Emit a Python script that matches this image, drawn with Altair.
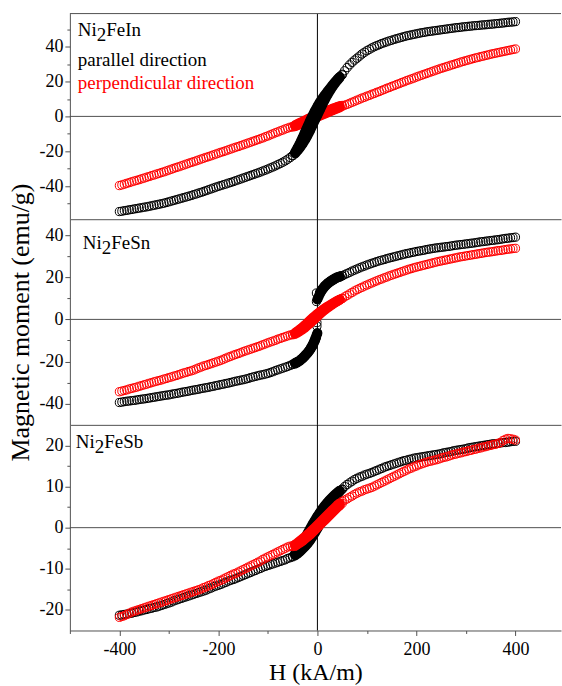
import altair as alt
import pandas as pd

# ---------------- data ----------------
# field grids (kA/m): descending branch outer points, return branch outer points, low-field points
H_POS = [60, 70, 80, 90, 100, 110, 120, 130, 140, 150, 160, 170, 180, 190, 200, 210, 220, 230,
         240, 250, 260, 270, 280, 290, 300, 310, 320, 330, 340, 350, 360, 370, 380, 390, 400]
H_NEG = [-60, -70, -80, -90, -100, -110, -120, -130, -140, -150, -160, -170, -180, -190, -200,
         -210, -220, -230, -240, -250, -260, -270, -280, -290, -300, -310, -320, -330, -340,
         -350, -360, -370, -380, -390, -400]
H_POS_R = [55, 65, 75, 85, 95, 105, 115, 125, 135, 145, 155, 165, 175, 185, 195, 205, 215, 225,
           235, 245, 255, 265, 275, 285, 295, 305, 315, 325, 335, 345, 355, 365, 375, 385, 395]
H_NEG_R = [-55, -65, -75, -85, -95, -105, -115, -125, -135, -145, -155, -165, -175, -185, -195,
           -205, -215, -225, -235, -245, -255, -265, -275, -285, -295, -305, -315, -325, -335,
           -345, -355, -365, -375, -385, -395]
H_IN = [-50, -45, -40, -35, -30, -25, -20, -15, -10, -5, 0, 5, 10, 15, 20, 25, 30, 35, 40, 45, 50]

# ---- Ni2FeIn, parallel direction (emu/g)
IN_PAR_POS = [28, 31, 33.4, 35.8, 37.7, 39.3, 40.6, 41.8, 42.8, 43.7, 44.6, 45.4, 46.2, 46.8, 47.4,
              48, 48.5, 48.9, 49.3, 49.7, 50.1, 50.5, 50.9, 51.2, 51.5, 51.8, 52.1, 52.4, 52.6,
              52.9, 53.2, 53.5, 53.8, 54.1, 54.4]
IN_PAR_NEG = [-24.6, -26.3, -27.7, -29, -30.2, -31.3, -32.4, -33.4, -34.4, -35.4, -36.4, -37.4,
              -38.3, -39.2, -40.1, -41.1, -42.1, -43.1, -44, -44.9, -45.8, -46.6, -47.4, -48.2,
              -49, -49.8, -50.4, -51, -51.6, -52.1, -52.6, -53.1, -53.6, -54.1, -54.6]
IN_PAR_POS_R = [26.2, 29.6, 32.3, 34.6, 36.8, 38.5, 40, 41.2, 42.3, 43.3, 44.2, 45, 45.8, 46.5,
                47.1, 47.7, 48.2, 48.7, 49.1, 49.5, 49.9, 50.3, 50.7, 51, 51.4, 51.7, 52, 52.2,
                52.5, 52.8, 53, 53.3, 53.6, 54, 54.2]
IN_PAR_NEG_R = [-23.6, -25.5, -27, -28.4, -29.6, -30.8, -31.9, -32.9, -33.9, -34.9, -35.9, -36.9,
                -37.9, -38.8, -39.7, -40.6, -41.6, -42.6, -43.6, -44.5, -45.4, -46.2, -47, -47.8,
                -48.6, -49.4, -50.1, -50.7, -51.3, -51.9, -52.4, -52.9, -53.4, -53.9, -54.4]
IN_PAR_DOWN = [-22.5, -20.5, -18, -15.2, -12.2, -9, -5.8, -2.6, 0.4, 3.2, 5.8, 8.2, 10.3, 12.3,
               14.2, 16, 17.8, 19.6, 21.2, 22.7, 24.2]
IN_PAR_UP = [-22.5, -21.2, -19.6, -17.8, -15.8, -13.5, -11, -8.2, -5.2, -2.2, 0.8, 3.8, 6.8, 9.6,
             12.2, 14.6, 16.8, 18.8, 20.6, 22.3, 23.8]
# ---- Ni2FeIn, perpendicular direction
IN_PERP_POS = [6.9, 8.1, 9.3, 10.5, 11.6, 12.7, 13.8, 14.9, 16.1, 17.2, 18.3, 19.4, 20.5, 21.5,
               22.6, 23.6, 24.6, 25.6, 26.6, 27.6, 28.5, 29.4, 30.3, 31.2, 32, 32.8, 33.6, 34.3,
               35, 35.7, 36.3, 36.9, 37.5, 38.1, 38.7]
IN_PERP_NEG = [-6.7, -7.8, -8.9, -10, -11.2, -12.3, -13.3, -14.3, -15.3, -16.3, -17.3, -18.2,
               -19.2, -20.2, -21.1, -22.1, -23.1, -24, -25, -26, -26.9, -27.9, -28.9, -29.8,
               -30.8, -31.8, -32.7, -33.6, -34.5, -35.4, -36.3, -37.1, -38, -38.9, -39.7]
IN_PERP_POS_R = [6.4, 7.5, 8.7, 9.9, 11, 12.1, 13.2, 14.3, 15.5, 16.6, 17.7, 18.8, 19.9, 21, 22,
                 23.1, 24.1, 25.1, 26.1, 27.1, 28, 28.9, 29.8, 30.7, 31.6, 32.4, 33.2, 33.9, 34.6,
                 35.3, 36, 36.6, 37.2, 37.8, 38.4]
IN_PERP_NEG_R = [-6.2, -7.2, -8.3, -9.4, -10.6, -11.7, -12.8, -13.8, -14.8, -15.8, -16.8, -17.7,
                 -18.7, -19.7, -20.6, -21.6, -22.6, -23.5, -24.5, -25.5, -26.4, -27.4, -28.4,
                 -29.3, -30.3, -31.3, -32.2, -33.1, -34, -34.9, -35.8, -36.7, -37.5, -38.4, -39.3]
IN_PERP_DOWN = [-5.8, -5.1, -4.4, -3.7, -3, -2.3, -1.6, -1, -0.4, 0.2, 0.8, 1.4, 2, 2.6, 3.2,
                3.8, 4.4, 4.9, 5.4, 5.9, 6.3]
IN_PERP_UP = [-6.1, -5.6, -5, -4.4, -3.8, -3.2, -2.6, -2, -1.4, -0.8, -0.2, 0.4, 1, 1.6, 2.2,
              2.8, 3.4, 4, 4.6, 5.2, 5.8]

# ---- Ni2FeSn, parallel direction
SN_PAR_POS = [21.8, 22.9, 23.9, 24.9, 25.8, 26.6, 27.4, 28.1, 28.8, 29.4, 30, 30.6, 31.2, 31.7,
              32.2, 32.6, 33.1, 33.5, 33.9, 34.2, 34.5, 34.8, 35.2, 35.5, 35.8, 36.1, 36.4, 36.8,
              37.1, 37.4, 37.7, 38, 38.4, 38.7, 39]
SN_PAR_NEG = [-22.3, -23.1, -23.9, -24.8, -25.6, -26.2, -26.7, -27.3, -28, -28.6, -29.1, -29.6,
              -30.2, -30.7, -31.2, -31.7, -32.2, -32.6, -33.1, -33.5, -34, -34.4, -34.9, -35.3,
              -35.8, -36.1, -36.5, -36.9, -37.3, -37.7, -38, -38.4, -38.7, -39, -39.4]
SN_PAR_POS_R = [21.2, 22.3, 23.4, 24.4, 25.3, 26.2, 27, 27.8, 28.4, 29.1, 29.7, 30.3, 30.9, 31.4,
                31.9, 32.4, 32.8, 33.3, 33.7, 34, 34.3, 34.6, 35, 35.3, 35.6, 35.9, 36.2, 36.6,
                36.9, 37.2, 37.5, 37.8, 38.2, 38.5, 38.8]
SN_PAR_NEG_R = [-21.8, -22.7, -23.5, -24.3, -25.2, -25.9, -26.4, -27, -27.6, -28.3, -28.8, -29.3,
                -29.9, -30.4, -30.9, -31.4, -31.9, -32.4, -32.8, -33.3, -33.7, -34.2, -34.6,
                -35.1, -35.5, -35.9, -36.3, -36.7, -37.1, -37.5, -37.8, -38.2, -38.5, -38.8, -39.2]
SN_PAR_DOWN = [-21.4, -20.9, -20.3, -19.5, -18.5, -17.3, -16, -14.5, -12.6, -10, 9.5, 12.2, 14.1,
               15.6, 16.8, 17.7, 18.5, 19.2, 19.8, 20.2, 20.6]
SN_PAR_UP = [-21.2, -20.7, -20.1, -19.3, -18.3, -17.1, -15.8, -14.2, -12.2, -9.5, -6.5, 12.6,
             14.4, 15.9, 17, 17.9, 18.7, 19.4, 20, 20.4, 20.8]
SN_PAR_JUMP_H = [-2, -2, -1, -1, -1, -2]
SN_PAR_JUMP_M = [12.5, 8.5, -1.5, -3.2, -7, -8.7]
# ---- Ni2FeSn, perpendicular direction
SN_PERP_POS = [11.4, 12.8, 14.1, 15.2, 16.3, 17.3, 18.3, 19.2, 20.1, 21, 21.8, 22.6, 23.4, 24.1,
               24.8, 25.4, 26, 26.6, 27.2, 27.7, 28.2, 28.7, 29.2, 29.7, 30.1, 30.5, 30.9, 31.3,
               31.7, 32, 32.4, 32.7, 33.1, 33.4, 33.7]
SN_PERP_NEG = [-7.8, -8.6, -9.4, -10.3, -11.1, -12, -12.9, -13.7, -14.5, -15.3, -16.2, -17,
               -17.9, -18.9, -19.8, -20.6, -21.4, -22.1, -23, -24, -24.7, -25.4, -26.2, -26.9,
               -27.6, -28.3, -29, -29.6, -30.3, -31, -31.7, -32.4, -33, -33.7, -34.3]
SN_PERP_POS_R = [10.7, 12.1, 13.5, 14.7, 15.8, 16.8, 17.8, 18.8, 19.7, 20.6, 21.4, 22.2, 23, 23.8,
                 24.5, 25.1, 25.7, 26.3, 26.9, 27.5, 28, 28.5, 29, 29.5, 29.9, 30.3, 30.7, 31.1,
                 31.5, 31.9, 32.2, 32.6, 32.9, 33.3, 33.6]
SN_PERP_NEG_R = [-7.4, -8.2, -9, -9.9, -10.7, -11.6, -12.5, -13.3, -14.1, -14.9, -15.8, -16.6,
                 -17.5, -18.4, -19.4, -20.2, -21, -21.8, -22.6, -23.5, -24.4, -25.1, -25.8, -26.6,
                 -27.3, -28, -28.7, -29.3, -30, -30.7, -31.4, -32.1, -32.7, -33.4, -34]
SN_PERP_DOWN = [-7.1, -6.4, -5.6, -4.7, -3.7, -2.7, -1.6, -0.5, 0.6, 1.6, 2.6, 3.5, 4.4, 5.2, 6,
                6.7, 7.4, 8.1, 8.8, 9.4, 10]
SN_PERP_UP = [-7.3, -6.8, -6.2, -5.5, -4.7, -3.8, -2.8, -1.8, -0.7, 0.4, 1.5, 2.6, 3.6, 4.6, 5.5,
              6.3, 7.1, 7.9, 8.6, 9.3, 9.9]

# ---- Ni2FeSb, parallel direction
SB_PAR_POS = [10.5, 11.3, 12, 12.5, 13, 13.4, 13.9, 14.4, 14.9, 15.3, 15.7, 16.1, 16.4, 16.7, 17,
              17.2, 17.4, 17.6, 17.8, 18, 18.3, 18.5, 18.8, 19, 19.2, 19.5, 19.7, 19.9, 20.1,
              20.3, 20.4, 20.6, 20.7, 20.9, 21]
SB_PAR_NEG = [-7.5, -8, -8.4, -8.8, -9.2, -9.6, -10.1, -10.6, -11.1, -11.6, -12.1, -12.6, -13,
              -13.5, -14, -14.4, -14.9, -15.4, -15.8, -16.2, -16.6, -17, -17.4, -17.8, -18.3,
              -18.7, -19.1, -19.4, -19.7, -20, -20.3, -20.6, -20.9, -21.1, -21.3]
SB_PAR_POS_R = [10, 10.9, 11.7, 12.3, 12.8, 13.2, 13.7, 14.2, 14.7, 15.1, 15.5, 15.9, 16.3, 16.6,
                16.9, 17.1, 17.3, 17.5, 17.7, 17.9, 18.2, 18.4, 18.7, 18.9, 19.1, 19.4, 19.6,
                19.8, 20, 20.2, 20.4, 20.5, 20.7, 20.8, 21]
SB_PAR_NEG_R = [-7.3, -7.8, -8.2, -8.6, -9, -9.4, -9.9, -10.4, -10.9, -11.4, -11.9, -12.4, -12.8,
                -13.3, -13.8, -14.2, -14.7, -15.2, -15.6, -16, -16.4, -16.8, -17.2, -17.6, -18.1,
                -18.5, -18.9, -19.3, -19.6, -19.9, -20.2, -20.5, -20.8, -21, -21.2]
SB_PAR_DOWN = [-7, -6.3, -5.5, -4.6, -3.6, -2.5, -1.4, -0.3, 0.8, 1.8, 2.8, 3.7, 4.6, 5.4, 6.1,
               6.8, 7.4, 8, 8.5, 9, 9.4]
SB_PAR_UP = [-7.1, -6.7, -6.3, -5.8, -5.2, -4.6, -3.9, -3.1, -2.2, -1.2, -0.2, 0.9, 2.1, 3.3,
             4.5, 5.6, 6.6, 7.4, 8.1, 8.8, 9.3]
# ---- Ni2FeSb, perpendicular direction
SB_PERP_POS = [7, 7.7, 8.4, 8.9, 9.4, 9.8, 10.4, 11, 11.6, 12.2, 12.8, 13.4, 14, 14.5, 15, 15.5,
               15.9, 16.2, 16.5, 16.9, 17.2, 17.6, 17.9, 18.2, 18.5, 18.8, 19.1, 19.4, 19.7, 20,
               20.3, 20.7, 21.5, 21.6, 21.3]
SB_PERP_NEG = [-4.7, -5.3, -5.9, -6.5, -7.1, -7.7, -8.4, -9, -9.6, -10.2, -10.8, -11.3, -11.9,
               -12.5, -13, -13.6, -14.1, -14.6, -15.1, -15.5, -15.9, -16.3, -16.7, -17.1, -17.5,
               -17.9, -18.3, -18.7, -19.1, -19.5, -19.9, -20.3, -20.8, -21.4, -21.8]
SB_PERP_POS_R = [6.7, 7.4, 8.1, 8.7, 9.2, 9.6, 10.1, 10.7, 11.3, 11.9, 12.5, 13.1, 13.7, 14.3,
                 14.8, 15.3, 15.7, 16.1, 16.4, 16.7, 17.1, 17.4, 17.8, 18.1, 18.4, 18.7, 19, 19.3,
                 19.6, 19.9, 20.2, 20.5, 21.2, 21.7, 21.5]
SB_PERP_NEG_R = [-4.5, -5, -5.6, -6.2, -6.8, -7.4, -8.1, -8.7, -9.3, -9.9, -10.5, -11.1, -11.6,
                 -12.2, -12.8, -13.3, -13.9, -14.4, -14.9, -15.3, -15.7, -16.1, -16.5, -16.9,
                 -17.3, -17.7, -18.1, -18.5, -18.9, -19.3, -19.7, -20.1, -20.5, -21.1, -21.6]
SB_PERP_DOWN = [-4.4, -4.1, -3.7, -3.2, -2.7, -2.2, -1.7, -1.2, -0.6, 0, 0.6, 1.2, 1.8, 2.4, 3,
                3.6, 4.2, 4.8, 5.4, 5.9, 6.4]
SB_PERP_UP = [-4.6, -4.4, -4, -3.6, -3.2, -2.7, -2.2, -1.7, -1.1, -0.5, 0.1, 0.7, 1.3, 1.9, 2.5,
              3.1, 3.7, 4.3, 4.9, 5.4, 5.9]

X_TICKS = [-500, -400, -300, -200, -100, 0, 100, 200, 300, 400]
Y1_TICKS = [-50, -40, -30, -20, -10, 0, 10, 20, 30, 40, 50]
Y2_TICKS = [-40, -30, -20, -10, 0, 10, 20, 30, 40]
Y3_TICKS = [-20, -15, -10, -5, 0, 5, 10, 15, 20]

# ---------------- styling ----------------
W = 492
PH = 206
SERIF = "Liberation Serif"
AX = "#505050"
RED = "#ff0000"


def build(par, perp, jump=None):
    rows = []
    for s, d in (("par", par), ("perp", perp)):
        pos, neg, pos_r, neg_r, down, up = d
        for hs, ms in ((H_POS, pos), (H_NEG, neg), (H_POS_R, pos_r), (H_NEG_R, neg_r)):
            for h, m in zip(hs, ms):
                rows.append({"H": h, "M": m, "s": s, "seg": None})
        for br, vals in (("d", down), ("u", up)):
            k, prev = 0, None
            for h, m in zip(H_IN, vals):
                if prev is not None and abs(m - prev) > 8:
                    k += 1
                prev = m
                rows.append({"H": h, "M": m, "s": s,
                             "seg": f"{s}{br}{k}" if abs(h) <= 45 else None})
    if jump:
        for h, m in zip(*jump):
            rows.append({"H": h, "M": m, "s": "par", "seg": None})
    return pd.DataFrame(rows)


ONE = pd.DataFrame({"k": [0]})
ZERO = pd.DataFrame({"H": [0], "M": [0]})


def txt(text, x, y, color="black"):
    return alt.Chart(ONE).mark_text(
        text=text, font=SERIF, fontSize=19, color=color, align="left", baseline="alphabetic"
    ).encode(x=alt.value(x), y=alt.value(y))


def formula(x0, y0, rest):
    return [txt("Ni", x0, y0), txt("2", x0 + 19, y0 + 5), txt(rest, x0 + 28.5, y0)]


def panel(df, ydom, yticks, major, texts, red_on_top, bottom, ytitle):
    xs = alt.Scale(domain=[-500, 492], nice=False, zero=False)
    if bottom:
        xaxis = alt.Axis(values=X_TICKS, title="H (kA/m)",
                         labelExpr="datum.value % 200 === 0 ? '' + datum.value : ''",
                         tickSize={"condition": {"test": "datum.value % 200 !== 0", "value": 3},
                                   "value": 5},
                         labelPadding=5, titlePadding=2, titleFontSize=24)
    else:
        xaxis = alt.Axis(ticks=False, labels=False, title=None)
    X = alt.X("H:Q", scale=xs, axis=xaxis)
    yaxis = alt.Axis(values=yticks,
                     labelExpr=f"datum.value % {major} === 0 ? '' + datum.value : ''",
                     tickSize={"condition": {"test": f"datum.value % {major} !== 0", "value": 3},
                               "value": 5},
                     title=ytitle, titlePadding=5)
    Y = alt.Y("M:Q", scale=alt.Scale(domain=ydom, nice=False, zero=False), axis=yaxis)

    hrule = alt.Chart(ZERO).mark_rule(color=AX, strokeWidth=1).encode(y=Y)
    vrule = alt.Chart(ZERO).mark_rule(color="black", strokeWidth=1).encode(x=X)

    def series(s, color):
        band = alt.Chart(df).transform_filter(
            f"datum.s == '{s}' && datum.seg != null"
        ).mark_line(strokeWidth=10, strokeCap="round", strokeJoin="round", color=color).encode(
            x=X, y=Y, detail="seg:N", order="H:Q")
        pts = alt.Chart(df).transform_filter(f"datum.s == '{s}'").mark_point(
            shape="circle", filled=False, size=68, strokeWidth=1, color=color, opacity=1
        ).encode(x=X, y=Y)
        return [band, pts]

    if red_on_top:
        marks = series("par", "black") + series("perp", RED)
    else:
        marks = series("perp", RED) + series("par", "black")
    layers = [hrule, vrule] + marks + texts
    return alt.layer(*layers).properties(width=W, height=PH)


df1 = build((IN_PAR_POS, IN_PAR_NEG, IN_PAR_POS_R, IN_PAR_NEG_R, IN_PAR_DOWN, IN_PAR_UP),
            (IN_PERP_POS, IN_PERP_NEG, IN_PERP_POS_R, IN_PERP_NEG_R, IN_PERP_DOWN, IN_PERP_UP))
df2 = build((SN_PAR_POS, SN_PAR_NEG, SN_PAR_POS_R, SN_PAR_NEG_R, SN_PAR_DOWN, SN_PAR_UP),
            (SN_PERP_POS, SN_PERP_NEG, SN_PERP_POS_R, SN_PERP_NEG_R, SN_PERP_DOWN, SN_PERP_UP),
            jump=(SN_PAR_JUMP_H, SN_PAR_JUMP_M))
df3 = build((SB_PAR_POS, SB_PAR_NEG, SB_PAR_POS_R, SB_PAR_NEG_R, SB_PAR_DOWN, SB_PAR_UP),
            (SB_PERP_POS, SB_PERP_NEG, SB_PERP_POS_R, SB_PERP_NEG_R, SB_PERP_DOWN, SB_PERP_UP))

top_border = alt.Chart(ONE).mark_rule(color=AX, strokeWidth=1).encode(
    x=alt.value(0), x2=alt.value(W), y=alt.value(0))

t1 = formula(8, 22, "FeIn") + [txt("parallel direction", 8, 53),
                               txt("perpendicular direction", 8, 76, RED), top_border]
t2 = formula(13, 30, "FeSn")
t3 = formula(6, 23, "FeSb")

p1 = panel(df1, [-59, 59], Y1_TICKS, 20, t1, False, False, None)
p2 = panel(df2, [-50, 47.5], Y2_TICKS, 20, t2, True, False, "Magnetic moment (emu/g)")
p3 = panel(df3, [-25, 25], Y3_TICKS, 10, t3, True, True, None)

chart = alt.vconcat(p1, p2, p3, spacing=0, bounds="flush").resolve_scale(
    y="independent"
).properties(
    padding={"left": 8, "top": 12, "right": 0, "bottom": 0}
).configure_view(stroke=None).configure_axis(
    labelFont=SERIF, titleFont=SERIF, labelFontSize=18, titleFontSize=26,
    titleFontWeight="normal", labelColor="black", titleColor="black",
    domainColor=AX, tickColor=AX, grid=False, labelPadding=2, domainWidth=1, tickWidth=1
)

chart.save("out.html", embed_options={"renderer": "svg", "actions": False})
